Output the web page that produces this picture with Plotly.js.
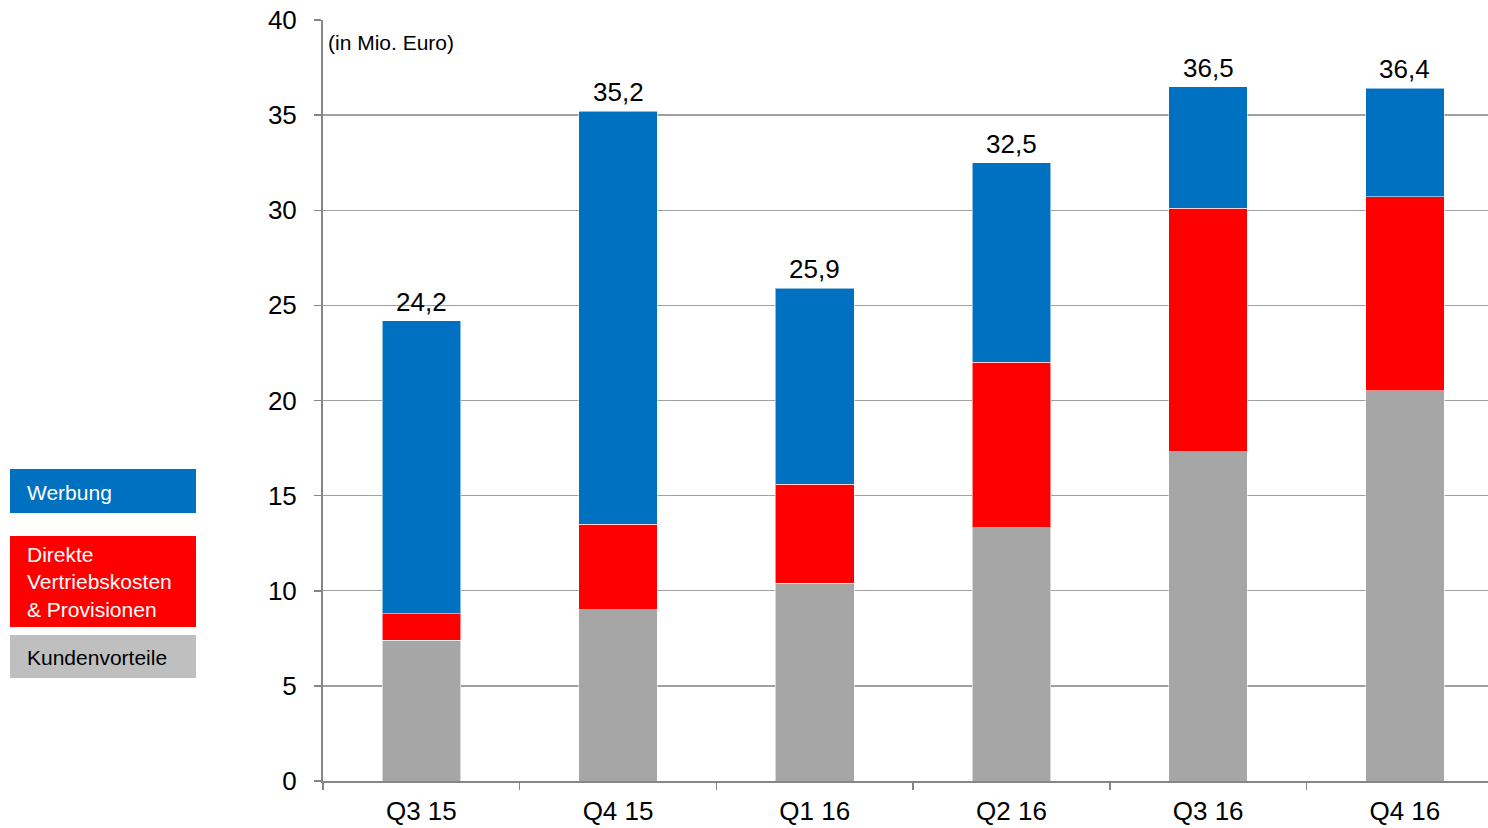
<!DOCTYPE html>
<html>
<head>
<meta charset="utf-8">
<script src="https://cdn.plot.ly/plotly-3.0.1.min.js"></script>
<style>html,body{margin:0;padding:0;background:#fff;}#chart{width:1488px;height:828px;}</style>
</head>
<body>
<div id="chart"></div>
<script>
// ---- data ----
const categories = ["Q3 15", "Q4 15", "Q1 16", "Q2 16", "Q3 16", "Q4 16"];
const kundenvorteile = [7.4, 9.0, 10.4, 13.3, 17.3, 20.5];
const vertriebskosten = [1.4, 4.5, 5.2, 8.7, 12.8, 10.2];
const werbung = [15.4, 21.7, 10.3, 10.5, 6.4, 5.7];
const totals = [24.2, 35.2, 25.9, 32.5, 36.5, 36.4];
const seriesNames = ["Werbung", "Direkte<br>Vertriebskosten<br>&amp; Provisionen", "Kundenvorteile"];
const yTicks = [0, 5, 10, 15, 20, 25, 30, 35, 40];
const unitNote = "(in Mio. Euro)";

// ---- layout helpers ----
const W = 1488, H = 828;
const L = 323, R = 0, T = 20, B = 47;
const pw = W - L - R, ph = H - T - B;
const xp = px => (px - L) / pw;
const yp = py => (H - B - py) / ph;

const FONT = "Liberation Sans, Arial, sans-serif";
const colBlue = "#0070C0", colRed = "#FF0000", colGray = "#A6A6A6", colGrayLegend = "#BFBFBF";
const edge = {color: "rgba(255,255,255,0.55)", width: 1};

const traces = [
  {type: "bar", x: categories, y: kundenvorteile, name: seriesNames[2], marker: {color: colGray, line: edge}, width: 0.4, showlegend: false, hoverinfo: "y"},
  {type: "bar", x: categories, y: vertriebskosten, name: seriesNames[1], marker: {color: colRed, line: edge}, width: 0.4, showlegend: false, hoverinfo: "y"},
  {type: "bar", x: categories, y: werbung, name: seriesNames[0], marker: {color: colBlue, line: edge}, width: 0.4, showlegend: false, hoverinfo: "y"}
];

const annotations = categories.map((c, i) => ({
  x: c, y: totals[i], xref: "x", yref: "y",
  text: totals[i].toFixed(1).replace(".", ","),
  showarrow: false, yanchor: "bottom", xanchor: "center", yshift: 2,
  font: {family: FONT, size: 26, color: "#000"}
}));

annotations.push({
  x: xp(326), y: yp(42), xref: "paper", yref: "paper", xanchor: "left", yanchor: "middle",
  text: unitNote, showarrow: false, font: {family: FONT, size: 21, color: "#000"}
});

// legend boxes
const legendBoxes = [
  {y0: 469, y1: 513, color: colBlue, text: seriesNames[0], tc: "#fff", ty: 492},
  {y0: 536, y1: 627, color: colRed, text: seriesNames[1], tc: "#fff", ty: 582},
  {y0: 635, y1: 678, color: colGrayLegend, text: seriesNames[2], tc: "#000", ty: 657}
];
const shapes = [];
legendBoxes.forEach(b => {
  shapes.push({type: "rect", xref: "paper", yref: "paper", x0: xp(10), x1: xp(196), y0: yp(b.y1), y1: yp(b.y0),
    fillcolor: b.color, line: {width: 0}, layer: "above"});
  annotations.push({x: xp(25), y: yp(b.ty), xref: "paper", yref: "paper", xanchor: "left", yanchor: "middle",
    align: "left", text: b.text, showarrow: false, font: {family: FONT, size: 21, color: b.tc}});
});

const layout = {
  width: W, height: H,
  margin: {l: L, r: R, t: T, b: B, pad: 0},
  paper_bgcolor: "#fff", plot_bgcolor: "#fff",
  barmode: "stack",
  font: {family: FONT, size: 26, color: "#000"},
  xaxis: {
    type: "category", range: [-0.5, -0.5 + pw / 196.7],
    showline: true, linecolor: "#868686", linewidth: 2,
    ticks: "outside", tickson: "boundaries", ticklen: 7, tickcolor: "#868686", tickwidth: 1.5,
    showgrid: false, tickfont: {family: FONT, size: 26, color: "#000"}, ticklabelstandoff: 6,
    fixedrange: true
  },
  yaxis: {
    range: [0, 40], tickvals: yTicks, ticktext: yTicks.map(String),
    showline: true, linecolor: "#868686", linewidth: 2,
    ticks: "outside", ticklen: 7, tickcolor: "#868686", tickwidth: 1.5,
    showgrid: true, gridcolor: "#A0A0A0", gridwidth: 1.3, zeroline: false,
    tickfont: {family: FONT, size: 26, color: "#000"}, ticklabelstandoff: 12,
    fixedrange: true
  },
  shapes: shapes,
  annotations: annotations,
  showlegend: false
};

Plotly.newPlot("chart", traces, layout, {displayModeBar: false, staticPlot: true});
</script>
</body>
</html>
